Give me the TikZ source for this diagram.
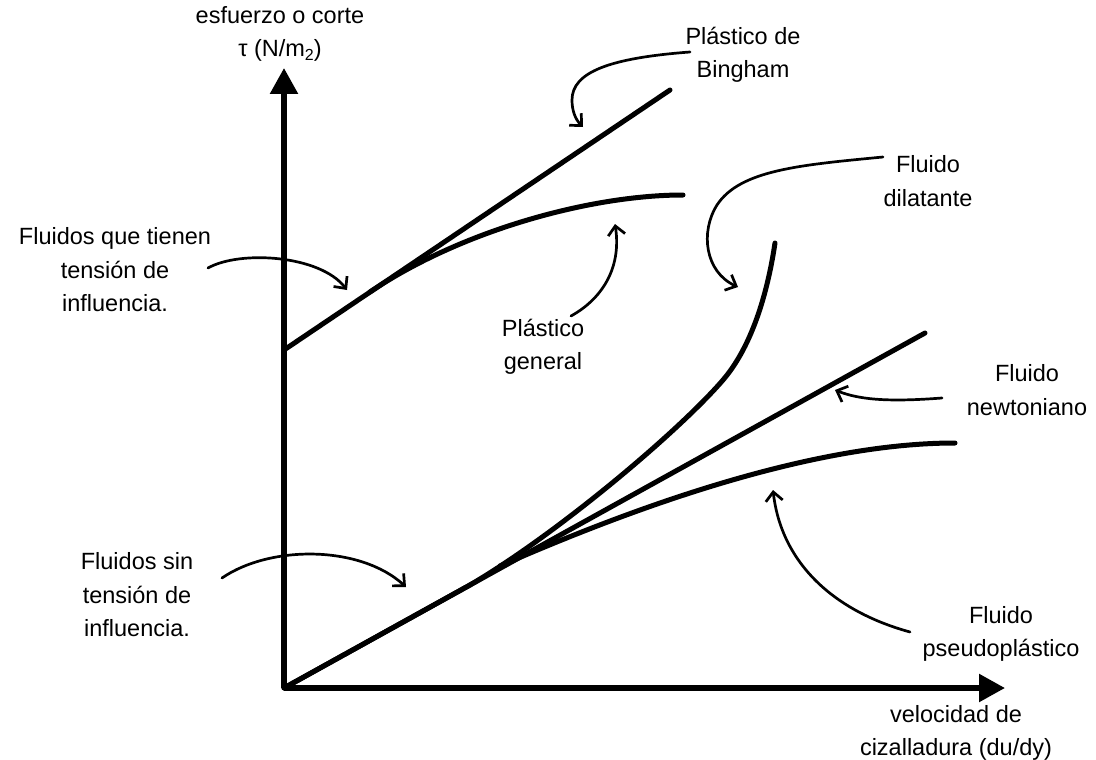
\documentclass[tikz,border=0pt]{standalone}
\usepackage{fontspec}
\setmainfont{Liberation Sans}
\usetikzlibrary{arrows.meta}
\begin{document}
\begin{tikzpicture}[x=1pt,y=-1pt,
  lbl/.style={align=center,font=\fontsize{23.5}{33.5}\selectfont,text=black,inner sep=0pt},
  axis/.style={line width=5.5pt,-{Triangle[length=26pt,width=27pt]}},
  curve/.style={line width=5pt,line cap=round},
  pointer/.style={line width=2.7pt,line cap=round,-{Straight Barb[length=9pt,width=17pt,line width=2.7pt]}}]
\useasboundingbox (0,0) rectangle (1096,760);

% axes
\coordinate (O) at (284,688);
\coordinate (ytip) at (284,68);
\coordinate (xtip) at (1005,688);
\draw[axis] (O) -- (ytip);
\draw[axis] (O) -- (xtip);

% fluids with yield stress
\coordinate (b0) at (284,350);
\coordinate (b1) at (670,90);
\coordinate (g0) at (370,292);
\coordinate (g1) at (683,195);
\draw[curve] (b0) -- (b1);
\draw[curve] (g0) .. controls (460,231) and (590,195) .. (g1);

% fluids without yield stress
\coordinate (n1) at (925,333);
\coordinate (d0) at (470,585);
\coordinate (dm) at (723,380);
\coordinate (d1) at (775,243);
\coordinate (p0) at (500,566);
\coordinate (p1) at (955,443);
\draw[curve] (O) -- (n1);
\draw[curve] (O) -- (d0) .. controls (560,532) and (680,430) .. (dm) .. controls (753,345) and (768,290) .. (d1);
\draw[curve] (p0) .. controls (610,518) and (800,443) .. (p1);

% labels
\node[lbl] (ylab) at (280,34) {esfuerzo o corte\\τ (N/m\raisebox{-0.3ex}{\fontsize{16}{16}\selectfont 2})};
\node[lbl] (xlab) at (956,733) {velocidad de\\cizalladura (du/dy)};
\node[lbl] (bing) at (743,55) {Plástico de\\Bingham};
\node[lbl] (dil) at (928,181) {Fluido\\dilatante};
\node[lbl] (yield) at (115,270) {Fluidos que tienen\\tensión de\\influencia.};
\node[lbl] (gen) at (543,347) {Plástico\\general};
\node[lbl] (newt) at (1027,390) {Fluido\\newtoniano};
\node[lbl] (noyield) at (137,595) {Fluidos sin\\tensión de\\influencia.};
\node[lbl] (pseudo) at (1001,634) {Fluido\\pseudoplástico};

% pointers from labels to curves
\coordinate (aB0) at (690,52);   \coordinate (aB1) at (583,127);
\coordinate (aY0) at (208,268);  \coordinate (aY1) at (347,290);
\coordinate (aG0) at (571,316);  \coordinate (aG1) at (615,224);
\coordinate (aD0) at (883,157);  \coordinate (aD1) at (738,287);
\coordinate (aN0) at (942,398);  \coordinate (aN1) at (835,390);
\coordinate (aS0) at (222,578);  \coordinate (aS1) at (406,587);
\coordinate (aP0) at (910,632);  \coordinate (aP1) at (773,490);

\draw[pointer] (aB0) .. controls (610,58) and (572,72) .. (572,100) .. controls (572,110) and (575,119) .. (aB1);
\draw[pointer] (aY0) .. controls (240,250) and (320,255) .. (aY1);
\draw[pointer] (aG0) .. controls (600,300) and (622,270) .. (aG1);
\draw[pointer] (aD0) .. controls (800,165) and (740,170) .. (717,205) .. controls (700,232) and (705,272) .. (aD1);
\draw[pointer] (aN0) .. controls (890,402) and (860,400) .. (aN1);
\draw[pointer] (aS0) .. controls (270,545) and (360,545) .. (aS1);
\draw[pointer] (aP0) .. controls (830,610) and (781,560) .. (aP1);
\end{tikzpicture}
\end{document}
